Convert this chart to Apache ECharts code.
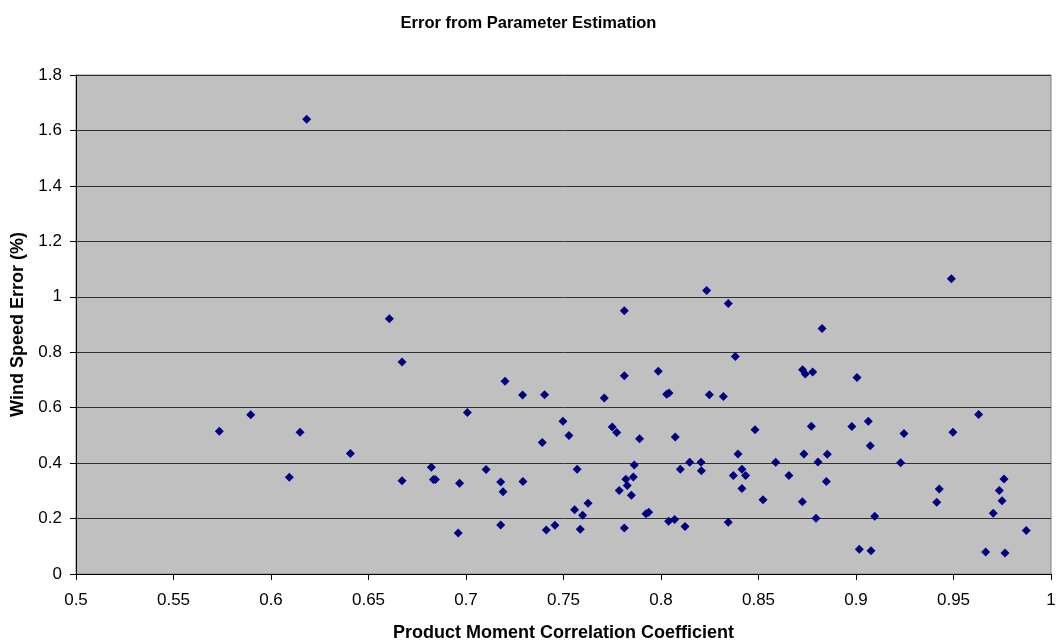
<!DOCTYPE html>
<html>
<head>
<meta charset="utf-8">
<script src="https://cdn.jsdelivr.net/npm/echarts@6/dist/echarts.min.js"></script>
<style>
  html, body { margin: 0; padding: 0; background: #fff; }
  #chart { width: 1057px; height: 643px; }
</style>
</head>
<body>
<div id="chart"></div>
<script>
// Correlation coefficient (x) and wind speed error in % (y) per site
const correlation = [
  0.6183, 0.6607, 0.6672, 0.5896, 0.5735, 0.6149, 0.6407, 0.6822, 0.6094, 0.6672,
  0.6833, 0.6843, 0.6967, 0.6960, 0.7812, 0.7812, 0.7200, 0.7290, 0.7403, 0.7709,
  0.7007, 0.7497, 0.7528, 0.7391, 0.7750, 0.7773, 0.7890, 0.7103, 0.7570, 0.7863,
  0.7178, 0.7292, 0.7190, 0.7820, 0.7858, 0.7827, 0.7786, 0.7848, 0.7626, 0.7557,
  0.7598, 0.7178, 0.7412, 0.7456, 0.7586, 0.7812, 0.8234, 0.8345, 0.8826, 0.8381,
  0.7986, 0.8726, 0.8740, 0.8778, 0.8029, 0.8041, 0.8248, 0.8320, 0.8482, 0.8771,
  0.8073, 0.8395, 0.8733, 0.8147, 0.8205, 0.8588, 0.8805, 0.8099, 0.8207, 0.8415,
  0.8371, 0.8434, 0.8656, 0.8415, 0.8523, 0.8725, 0.7923, 0.7937, 0.8039, 0.8070,
  0.8123, 0.8345, 0.8795, 0.9489, 0.9005, 0.9629, 0.8979, 0.9063, 0.9246, 0.9497,
  0.9073, 0.8853, 0.9229, 0.8848, 0.9759, 0.9427, 0.9735, 0.9414, 0.9749, 0.9704,
  0.9096, 0.9873, 0.9017, 0.9077, 0.9665, 0.9764
];
const speedError = [
  1.640, 0.921, 0.765, 0.574, 0.515, 0.511, 0.435, 0.385, 0.349, 0.336,
  0.341, 0.341, 0.327, 0.148, 0.950, 0.715, 0.695, 0.646, 0.647, 0.635,
  0.583, 0.551, 0.500, 0.474, 0.530, 0.510, 0.488, 0.377, 0.378, 0.393,
  0.332, 0.334, 0.297, 0.342, 0.350, 0.319, 0.301, 0.284, 0.255, 0.232,
  0.212, 0.177, 0.159, 0.176, 0.161, 0.166, 1.023, 0.976, 0.886, 0.785,
  0.731, 0.737, 0.721, 0.729, 0.648, 0.653, 0.647, 0.640, 0.520, 0.533,
  0.494, 0.433, 0.433, 0.403, 0.403, 0.403, 0.404, 0.378, 0.372, 0.378,
  0.355, 0.355, 0.355, 0.308, 0.268, 0.261, 0.217, 0.223, 0.190, 0.197,
  0.171, 0.187, 0.201, 1.065, 0.709, 0.575, 0.532, 0.551, 0.507, 0.511,
  0.463, 0.432, 0.401, 0.334, 0.343, 0.307, 0.301, 0.259, 0.264, 0.219,
  0.208, 0.157, 0.089, 0.084, 0.079, 0.076
];

const points = correlation.map((x, i) => [x, speedError[i]]);

const chart = echarts.init(document.getElementById('chart'));
const font = 'Liberation Sans, Arial, sans-serif';

chart.setOption({
  animation: false,
  backgroundColor: '#ffffff',
  title: {
    text: 'Error from Parameter Estimation',
    left: 'center',
    top: 10,
    textStyle: { fontFamily: font, fontSize: 16.5, fontWeight: 'bold', color: '#000' }
  },
  grid: {
    left: 76, right: 6, top: 75, bottom: 69,
    outerBoundsMode: 'none',
    containLabel: false,
    show: true,
    backgroundColor: '#C0C0C0',
    borderColor: '#808080',
    borderWidth: 1
  },
  xAxis: {
    type: 'value',
    min: 0.5, max: 1, interval: 0.05,
    name: 'Product Moment Correlation Coefficient',
    nameLocation: 'middle',
    nameGap: 50,
    nameTextStyle: { fontFamily: font, fontSize: 18, fontWeight: 'bold', color: '#000' },
    axisLine: { show: true, lineStyle: { color: '#000', width: 1 } },
    axisTick: { show: true, length: 6, inside: false, lineStyle: { color: '#000' } },
    axisLabel: {
      fontFamily: font, fontSize: 17, color: '#000', margin: 18,
      formatter: v => String(Math.round(v * 100) / 100)
    },
    splitLine: { show: false }
  },
  yAxis: {
    type: 'value',
    min: 0, max: 1.8, interval: 0.2,
    name: 'Wind Speed Error (%)',
    nameLocation: 'middle',
    nameGap: 49,
    nameRotate: 90,
    nameTextStyle: { fontFamily: font, fontSize: 18, fontWeight: 'bold', color: '#000' },
    axisLine: { show: true, lineStyle: { color: '#000', width: 1 } },
    axisTick: { show: true, length: 6, inside: false, lineStyle: { color: '#000' } },
    axisLabel: {
      fontFamily: font, fontSize: 17, color: '#000', margin: 14,
      formatter: v => String(Math.round(v * 10) / 10)
    },
    splitLine: { show: true, lineStyle: { color: '#303030', width: 1 } }
  },
  series: [{
    type: 'scatter',
    data: points,
    symbol: 'diamond',
    symbolSize: [9, 9],
    itemStyle: { color: '#000080', opacity: 1 }
  }]
});
</script>
</body>
</html>
